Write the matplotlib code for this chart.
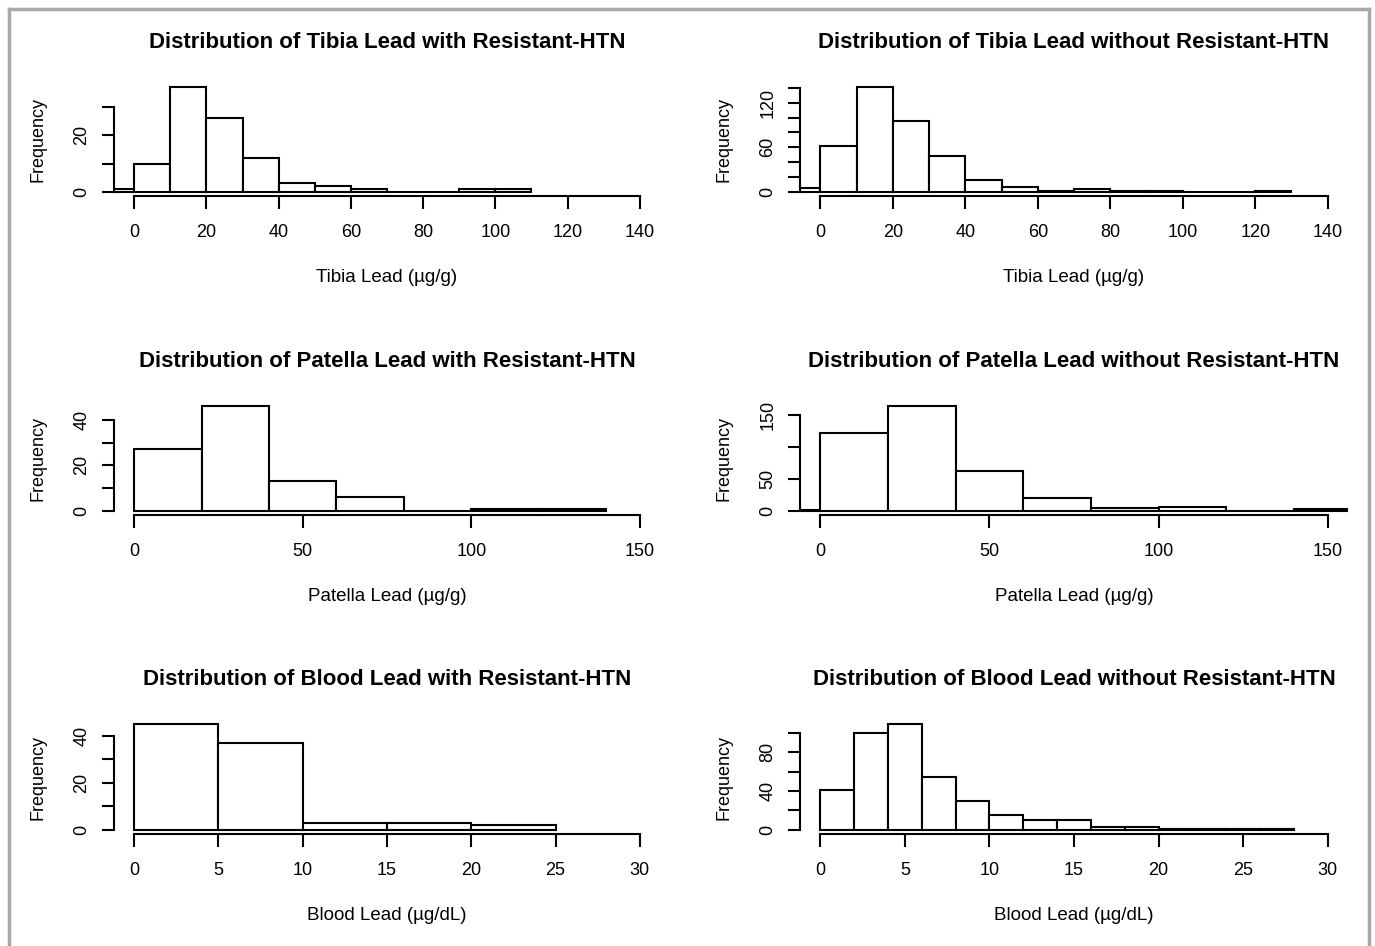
import numpy as np
import matplotlib
matplotlib.use('Agg')
import matplotlib.pyplot as plt
from matplotlib.lines import Line2D

plt.rcParams['font.family'] = ['Liberation Sans', 'DejaVu Sans']

# bin edges (start, step) and counts
tibia_with_start, tibia_with_step = -10, 10
tibia_with_counts = [1, 10, 37, 26, 12, 3, 2, 1, 0, 0, 1, 1]

tibia_without_start, tibia_without_step = -10, 10
tibia_without_counts = [5, 62, 141, 96, 48, 16, 6, 1, 4, 1, 1, 0, 0, 1]

patella_with_start, patella_with_step = 0, 20
patella_with_counts = [27, 46, 13, 6, 0, 1, 1]

patella_without_start, patella_without_step = -20, 20
patella_without_counts = [2, 122, 164, 62, 20, 5, 6, 0, 3]

blood_with_start, blood_with_step = 0, 5
blood_with_counts = [45, 37, 3, 3, 2]

blood_without_start, blood_without_step = 0, 2
blood_without_counts = [41, 100, 109, 54, 30, 15, 10, 10, 3, 3, 1, 1, 1, 1]

tibia_xticks = [0, 20, 40, 60, 80, 100, 120, 140]
patella_xticks = [0, 50, 100, 150]
blood_xticks = [0, 5, 10, 15, 20, 25, 30]

panels = [
    ('Distribution of Tibia Lead with Resistant-HTN', 'Tibia Lead (µg/g)',
     tibia_with_start, tibia_with_step, tibia_with_counts, tibia_xticks,
     [0, 10, 20, 30], ['0', '', '20', '']),
    ('Distribution of Tibia Lead without Resistant-HTN', 'Tibia Lead (µg/g)',
     tibia_without_start, tibia_without_step, tibia_without_counts, tibia_xticks,
     [0, 20, 40, 60, 80, 100, 120, 140], ['0', '', '', '60', '', '', '120', '']),
    ('Distribution of Patella Lead with Resistant-HTN', 'Patella Lead (µg/g)',
     patella_with_start, patella_with_step, patella_with_counts, patella_xticks,
     [0, 10, 20, 30, 40], ['0', '', '20', '', '40']),
    ('Distribution of Patella Lead without Resistant-HTN', 'Patella Lead (µg/g)',
     patella_without_start, patella_without_step, patella_without_counts, patella_xticks,
     [0, 50, 100, 150], ['0', '50', '', '150']),
    ('Distribution of Blood Lead with Resistant-HTN', 'Blood Lead (µg/dL)',
     blood_with_start, blood_with_step, blood_with_counts, blood_xticks,
     [0, 10, 20, 30, 40], ['0', '', '20', '', '40']),
    ('Distribution of Blood Lead without Resistant-HTN', 'Blood Lead (µg/dL)',
     blood_without_start, blood_without_step, blood_without_counts, blood_xticks,
     [0, 20, 40, 60, 80, 100], ['0', '', '40', '', '80', '']),
]

W, H = 1375, 946
fig = plt.figure(figsize=(W / 100, H / 100), dpi=100)
fig.patch.set_facecolor('white')

col_x = [(114, 660), (800, 1348)]
row_y = [(83, 196), (402, 515), (720, 834)]

for i, (title, xlabel, start, step, counts, xticks, yticks, ylabels) in enumerate(panels):
    r, c = divmod(i, 2)
    x0, x1 = col_x[c]
    y0, y1 = row_y[r]
    ax = fig.add_axes([x0 / W, 1 - y1 / H, (x1 - x0) / W, (y1 - y0) / H])

    lefts = start + step * np.arange(len(counts))
    ax.bar(lefts, counts, width=step, align='edge', color='white',
           edgecolor='black', linewidth=1.5)

    # R-style 4% padding around data range
    xmin, xmax = xticks[0], xticks[-1]
    xr = xmax - xmin
    ax.set_xlim(xmin - 0.04 * xr, xmax + 0.04 * xr)
    ymax = max(counts)
    ax.set_ylim(-0.04 * ymax, 1.04 * ymax)

    for s in ['top', 'right']:
        ax.spines[s].set_visible(False)
    ax.spines['bottom'].set_bounds(xmin, xmax)
    ax.spines['left'].set_bounds(yticks[0], yticks[-1])
    for s in ['bottom', 'left']:
        ax.spines[s].set_linewidth(1.5)

    ax.set_xticks(xticks)
    ax.set_xticklabels([str(t) for t in xticks])
    ax.set_yticks(yticks)
    ax.set_yticklabels(ylabels, rotation=90, va='center')
    ax.tick_params(axis='both', length=9, width=1.5, labelsize=13)
    ax.tick_params(axis='x', pad=11)
    ax.tick_params(axis='y', pad=8)

    ax.set_xlabel(xlabel, fontsize=13.5, labelpad=20)
    ax.set_ylabel('Frequency', fontsize=13, labelpad=19)
    ax.set_title(title, fontsize=16, fontweight='bold', pad=25)

# grey frame around the image (bottom edge cut off in the reference)
fc = '#a8a8a8'
fig.add_artist(Line2D([9 / W, 9 / W], [0, 1 - 9 / H], color=fc, lw=2.5))
fig.add_artist(Line2D([9 / W, 1369 / W], [1 - 9 / H, 1 - 9 / H], color=fc, lw=2.5))
fig.add_artist(Line2D([1369 / W, 1369 / W], [0, 1 - 9 / H], color=fc, lw=2.5))

plt.savefig('out.png', dpi=100, facecolor='white')
plt.close()
